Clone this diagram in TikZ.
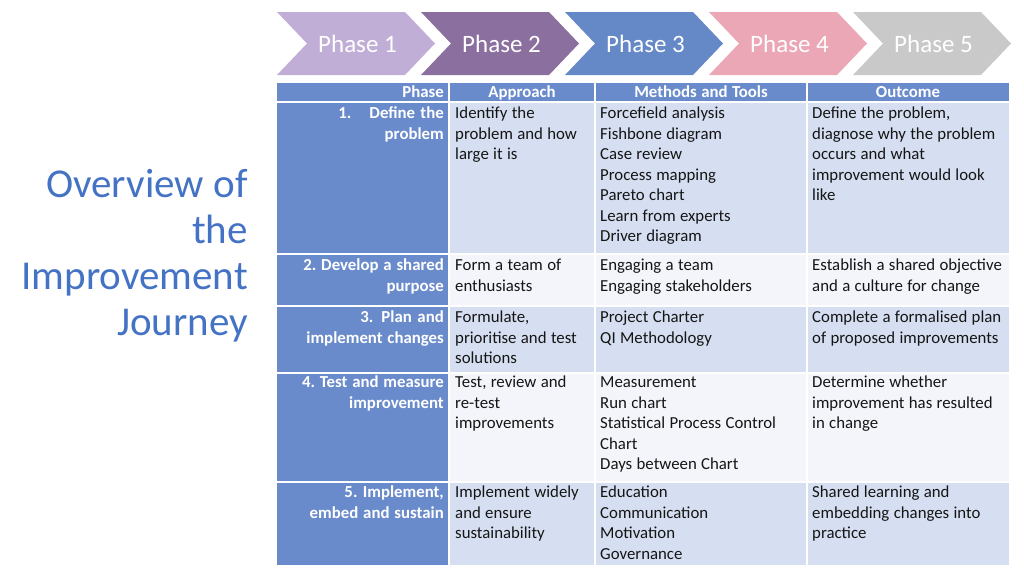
\documentclass[tikz,border=0pt]{standalone}
\usepackage{fontspec}
\setmainfont{Carlito}
\usepackage{xcolor}
\definecolor{title-blue}{HTML}{4472C4}
\definecolor{head-blue}{HTML}{6A8BCB}
\definecolor{band-blue}{HTML}{D6DFF1}
\definecolor{plain-row}{HTML}{F3F5FA}
\definecolor{ph1}{HTML}{C1AED6}
\definecolor{ph2}{HTML}{8B6F9F}
\definecolor{ph3}{HTML}{6588C7}
\definecolor{ph4}{HTML}{ECA7B6}
\definecolor{ph5}{HTML}{C9C9C9}
\definecolor{ink}{HTML}{151515}
\frenchspacing
\newcommand{\tabfont}{\fontsize{16.8}{20.5}\selectfont}
\newcommand{\tightsp}{\spaceskip 0.26em plus 0.03em minus 0.02em\relax}
\newcommand{\ttlsp}{\spaceskip 0.235em\relax}
\tikzset{
  cell/.style={fill=#1,draw=white,line width=1.6pt},
  phase/.style={anchor=base,inner sep=0pt,text=white,font=\fontsize{25}{30}\selectfont},
  head/.style={anchor=base,inner sep=0pt,text=white,font=\tabfont\bfseries,
    execute at begin node=\tightsp},
  body/.style={anchor=base west,inner sep=0pt,text width=#1,align=left,text=ink,font=\tabfont,
    execute at begin node=\tightsp},
  lead/.style={anchor=base east,inner sep=0pt,text width=170pt,align=right,text=white,font=\tabfont\bfseries,
    execute at begin node=\tightsp},
}
\newcommand{\ver}[2]{\coordinate (#1) at (#2);}

\begin{document}
\begin{tikzpicture}[x=1pt,y=-1pt]
    \useasboundingbox (0,0) rectangle (1024,576);
    \pgfmathsetmacro{\xa}{276};
    \pgfmathsetmacro{\xb}{449};
    \pgfmathsetmacro{\xc}{595};
    \pgfmathsetmacro{\xd}{807};
    \pgfmathsetmacro{\xe}{1010};
    % phase chevrons
    \foreach \i/\c in {1/ph1,2/ph2,3/ph3,4/ph4,5/ph5}{
      \pgfmathsetmacro{\xo}{277+144*(\i-1)}
      \fill[\c] (\xo,12) -- ++(128,0) -- ++(30,31.5) -- ++(-30,31.5)
        -- ++(-128,0) -- ++(30,-31.5) -- cycle;
      \node[phase] (ph\i) at (\xo+80.5,52) {Phase \i};
    }
    % title
    \node[anchor=base east,inner sep=0pt,text width=240pt,align=right,text=title-blue,
      font=\fontsize{41}{46}\selectfont,execute at begin node=\ttlsp] (title) at (248,197)
      {Overview of\\the\\Improvement\\Journey};
    % table cells
    \draw[cell=head-blue] (\xa,82) rectangle (\xe,102);
    \draw[white,line width=1.6pt] (\xb,82) -- (\xb,102) (\xc,82) -- (\xc,102) (\xd,82) -- (\xd,102);
    \foreach \t/\b/\c in {102/254/band-blue,254/306/plain-row,306/373/band-blue,373/482/plain-row,482/566/band-blue}{
      \draw[cell=head-blue] (\xa,\t) rectangle (\xb,\b);
      \draw[cell=\c] (\xb,\t) rectangle (\xc,\b);
      \draw[cell=\c] (\xc,\t) rectangle (\xd,\b);
      \draw[cell=\c] (\xd,\t) rectangle (\xe,\b);
    }
    % header
    \node[head,anchor=base east] (h1) at (444,97.5) {Phase};
    \node[head] (h2) at (522,97.5) {Approach};
    \node[head] (h3) at (701,97.5) {Methods and Tools};
    \node[head] (h4) at (908,97.5) {Outcome};
    % row 1
    \node[lead] (p1) at (444,118.5) {1.\hspace{18pt}Define the\\problem};
    \node[body=140pt] (a1) at (455,118.5) {Identify the\\problem and how\\large it is};
    \node[body=205pt] (m1) at (600,118.5) {Forcefield analysis\\Fishbone diagram\\Case review\\Process mapping\\Pareto chart\\Learn from experts\\Driver diagram};
    \node[body=198pt] (o1) at (812,118.5) {Define the problem,\\diagnose why the problem\\occurs and what\\improvement would look\\like};
    % row 2
    \node[lead] (p2) at (444,270.5) {2. Develop a shared\\purpose};
    \node[body=140pt] (a2) at (455,270.5) {Form a team of\\enthusiasts};
    \node[body=205pt] (m2) at (600,270.5) {Engaging a team\\Engaging stakeholders};
    \node[body=198pt] (o2) at (812,270.5) {Establish a shared objective\\and a culture for change};
    % row 3
    \node[lead] (p3) at (444,322.5) {3.\hspace{8pt}Plan and\\implement changes};
    \node[body=140pt] (a3) at (455,322.5) {Formulate,\\prioritise and test\\solutions};
    \node[body=205pt] (m3) at (600,322.5) {Project Charter\\QI Methodology};
    \node[body=198pt] (o3) at (812,322.5) {Complete a formalised plan\\of proposed improvements};
    % row 4
    \node[lead] (p4) at (444,387.5) {4. Test and measure\\improvement};
    \node[body=140pt] (a4) at (455,387.5) {Test, review and\\re-test\\improvements};
    \node[body=205pt] (m4) at (600,387.5) {Measurement\\Run chart\\Statistical Process Control\\Chart\\Days between Chart};
    \node[body=198pt] (o4) at (812,387.5) {Determine whether\\improvement has resulted\\in change};
    % row 5
    \node[lead] (p5) at (444,497.5) {5. Implement,\\embed and sustain};
    \node[body=140pt] (a5) at (455,497.5) {Implement widely\\and ensure\\sustainability};
    \node[body=205pt] (m5) at (600,497.5) {Education\\Communication\\Motivation\\Governance};
    \node[body=198pt] (o5) at (812,497.5) {Shared learning and\\embedding changes into\\practice};
\end{tikzpicture}
\end{document}
